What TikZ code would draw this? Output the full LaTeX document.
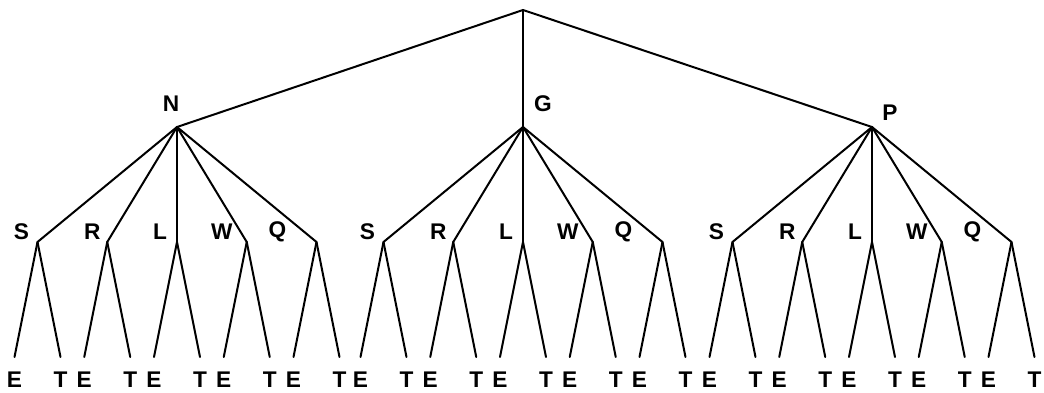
\documentclass[tikz,border=0pt]{standalone}
\usepackage{fontspec}
\setmainfont{Liberation Sans}
\usepackage{tikz}
\usetikzlibrary{positioning}

\begin{document}
\begin{tikzpicture}[x=0.75pt, y=-0.75pt]
    \tikzstyle{branch} = [line width=1.5pt, black, line cap=round]
    \tikzstyle{lbl} = [font=\fontsize{17}{20}\selectfont\bfseries, inner sep=0pt]

    \useasboundingbox (0,0) rectangle (1044,392);

    \coordinate (root) at (523,10);

    % first level
    \coordinate (N) at (177,127);
    \coordinate (G) at (523,127);
    \coordinate (P) at (872,127);
    \node[lbl] (Nl) at (171,104) {N};
    \node[lbl] (Gl) at (543,104) {G};
    \node[lbl] (Pl) at (890,113) {P};

    \draw[branch] (root) -- (N);
    \draw[branch] (root) -- (G);
    \draw[branch] (root) -- (P);

    % second level and leaves
    \foreach \g/\cx in {N/177, G/523, P/872} {
        \foreach \k/\dx/\ox in {S/-139.5/-16, R/-69.75/-15, L/0/-17, W/69.75/-25, Q/139.5/-39} {
            \coordinate (\g\k) at ({\cx+\dx},242);
            \node[lbl] (\g\k l) at ({\cx+\dx+\ox},232) {\k};
            \draw[branch] (\g) -- (\g\k);

            \coordinate (\g\k E) at ({\cx+\dx-23},357);
            \coordinate (\g\k T) at ({\cx+\dx+23},357);
            \node[lbl] (\g\k El) at ({\cx+\dx-23},380) {E};
            \node[lbl] (\g\k Tl) at ({\cx+\dx+23},380) {T};
            \draw[branch] (\g\k) -- (\g\k E);
            \draw[branch] (\g\k) -- (\g\k T);
        }
    }
\end{tikzpicture}
\end{document}
